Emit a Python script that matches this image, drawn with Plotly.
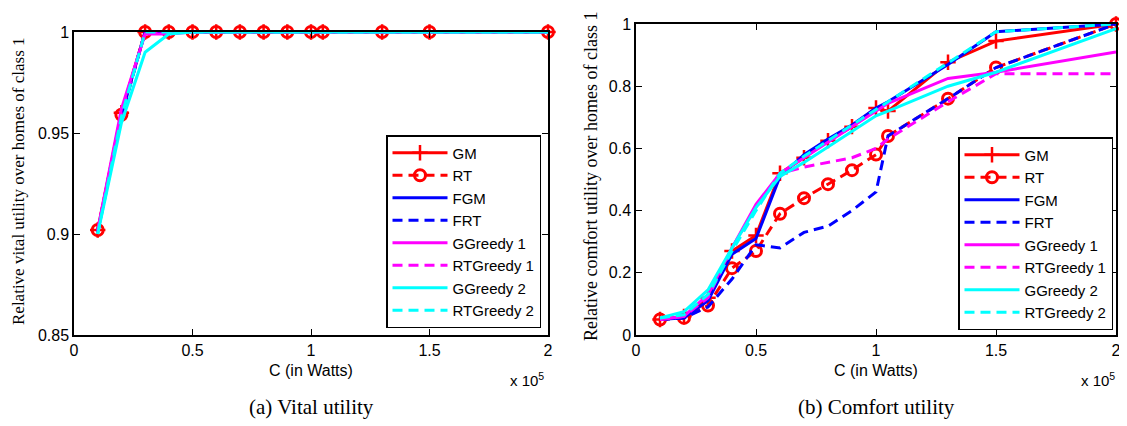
import plotly.graph_objects as go

# x in units of 1e5 Watts
C = [0.1, 0.2, 0.3, 0.4, 0.5, 0.6, 0.7, 0.8, 0.9, 1.0, 1.05, 1.3, 1.5, 2.0]

names = ["GM", "RT", "FGM", "FRT", "GGreedy 1", "RTGreedy 1", "GGreedy 2", "RTGreedy 2"]

# (a) Vital utility
vital_GM = [0.902, 0.960, 1.0, 1.0, 1.0, 1.0, 1.0, 1.0, 1.0, 1.0, 1.0, 1.0, 1.0, 1.0]
vital_RT = [0.902, 0.959, 1.0, 1.0, 1.0, 1.0, 1.0, 1.0, 1.0, 1.0, 1.0, 1.0, 1.0, 1.0]
vital_FGM = [0.901, 0.959, 1.0, 1.0, 1.0, 1.0, 1.0, 1.0, 1.0, 1.0, 1.0, 1.0, 1.0, 1.0]
vital_FRT = [0.901, 0.958, 1.0, 1.0, 1.0, 1.0, 1.0, 1.0, 1.0, 1.0, 1.0, 1.0, 1.0, 1.0]
vital_GG1 = [0.902, 0.962, 0.999, 0.999, 1.0, 1.0, 1.0, 1.0, 1.0, 1.0, 1.0, 1.0, 1.0, 1.0]
vital_RTG1 = [0.901, 0.960, 1.0, 1.0, 1.0, 1.0, 1.0, 1.0, 1.0, 1.0, 1.0, 1.0, 1.0, 1.0]
vital_GG2 = [0.900, 0.955, 0.990, 0.999, 1.0, 1.0, 1.0, 1.0, 1.0, 1.0, 1.0, 1.0, 1.0, 1.0]
vital_RTG2 = [0.900, 0.958, 1.0, 1.0, 1.0, 1.0, 1.0, 1.0, 1.0, 1.0, 1.0, 1.0, 1.0, 1.0]

# (b) Comfort utility
comf_GM = [0.05, 0.06, 0.12, 0.27, 0.32, 0.52, 0.57, 0.625, 0.67, 0.73, 0.72, 0.877, 0.945, 1.0]
comf_RT = [0.05, 0.055, 0.095, 0.215, 0.27, 0.39, 0.44, 0.485, 0.53, 0.58, 0.64, 0.76, 0.86, 1.0]
comf_FGM = [0.05, 0.055, 0.11, 0.26, 0.31, 0.51, 0.58, 0.63, 0.675, 0.73, 0.75, 0.87, 0.975, 1.0]
comf_FRT = [0.05, 0.055, 0.09, 0.18, 0.29, 0.28, 0.33, 0.35, 0.40, 0.46, 0.64, 0.76, 0.86, 1.0]
comf_GG1 = [0.05, 0.06, 0.13, 0.28, 0.42, 0.52, 0.57, 0.62, 0.67, 0.72, 0.745, 0.825, 0.845, 0.91]
comf_RTG1 = [0.05, 0.06, 0.12, 0.28, 0.41, 0.52, 0.54, 0.555, 0.57, 0.60, 0.63, 0.75, 0.84, 0.84]
comf_GG2 = [0.055, 0.075, 0.145, 0.28, 0.41, 0.51, 0.555, 0.605, 0.655, 0.705, 0.72, 0.80, 0.845, 0.985]
comf_RTG2 = [0.055, 0.065, 0.13, 0.27, 0.40, 0.52, 0.575, 0.625, 0.675, 0.725, 0.75, 0.875, 0.975, 1.0]

vital = [vital_GM, vital_RT, vital_FGM, vital_FRT, vital_GG1, vital_RTG1, vital_GG2, vital_RTG2]
comfort = [comf_GM, comf_RT, comf_FGM, comf_FRT, comf_GG1, comf_RTG1, comf_GG2, comf_RTG2]

RED, BLUE, MAG, CYAN = "#ff0000", "#0000ff", "#ff00ff", "#00ffff"
DASH = "10px,6px"
styles = [
    dict(color=RED, dash="solid", mode="lines+markers", marker=dict(symbol="cross-thin", size=11, line=dict(color=RED, width=2.5))),
    dict(color=RED, dash=DASH, mode="lines+markers", marker=dict(symbol="circle-open", size=11, line=dict(color=RED, width=3))),
    dict(color=BLUE, dash="solid", mode="lines", marker=None),
    dict(color=BLUE, dash=DASH, mode="lines", marker=None),
    dict(color=MAG, dash="solid", mode="lines", marker=None),
    dict(color=MAG, dash=DASH, mode="lines", marker=None),
    dict(color=CYAN, dash="solid", mode="lines", marker=None),
    dict(color=CYAN, dash=DASH, mode="lines", marker=None),
]

fig = go.Figure()
for panel, data in enumerate([vital, comfort]):
    xa = "x" if panel == 0 else "x2"
    ya = "y" if panel == 0 else "y2"
    lg = "legend" if panel == 0 else "legend2"
    for name, ys, st in zip(names, data, styles):
        kw = dict(x=C, y=ys, name=name, mode=st["mode"], xaxis=xa, yaxis=ya, legend=lg,
                  line=dict(color=st["color"], dash=st["dash"], width=3), cliponaxis=False)
        if st["marker"] is not None:
            kw["marker"] = st["marker"]
        fig.add_trace(go.Scatter(**kw))

# The page body has an 8px default margin; layout positions below are given in
# window pixels and converted to figure-paper fractions.
OX, OY = 8, 8
W, H = 1119, 412
def px(x):
    return (x - OX) / W
def py(y):
    return 1 - (y - OY) / H

SANS = "Liberation Sans, Arial, sans-serif"
tickfont = dict(family=SANS, size=16, color="black")
axis_common = dict(showline=True, linecolor="black", linewidth=1.5, mirror="ticks", ticks="inside",
                   ticklen=6, tickcolor="black", tickfont=tickfont, showgrid=False, zeroline=False,
                   automargin=False)
legfont = dict(family=SANS, size=15, color="black")

fig.update_layout(
    width=W, height=H, margin=dict(l=0, r=0, t=0, b=0, autoexpand=False),
    paper_bgcolor="white", plot_bgcolor="white",
    xaxis=dict(domain=[px(74), px(548)], range=[0, 2], dtick=0.5, anchor="y", **axis_common),
    yaxis=dict(domain=[py(335), py(32)], range=[0.85, 1], dtick=0.05, anchor="x", **axis_common),
    xaxis2=dict(domain=[px(636), px(1116)], range=[0, 2], dtick=0.5, anchor="y2", **axis_common),
    yaxis2=dict(domain=[py(335), py(24)], range=[0, 1], dtick=0.2, anchor="x2", **axis_common),
    legend=dict(x=px(541), y=py(328), xanchor="right", yanchor="bottom", bgcolor="white",
                bordercolor="black", borderwidth=1.5, font=legfont, itemwidth=55, tracegroupgap=0),
    legend2=dict(x=px(1113), y=py(330), xanchor="right", yanchor="bottom", bgcolor="white",
                 bordercolor="black", borderwidth=1.5, font=legfont, itemwidth=55, tracegroupgap=0),
    showlegend=True,
)

serif = "Liberation Serif, DejaVu Serif, serif"
ann = [
    dict(x=px(19), y=py(181), text="Relative vital utility over homes of class 1", textangle=-90,
         font=dict(family=serif, size=17, color="black")),
    dict(x=px(591), y=py(177), text="Relative comfort utility over homes of class 1", textangle=-90,
         font=dict(family=serif, size=18, color="black")),
    dict(x=px(311), y=py(370), text="C (in Watts)", font=dict(family=SANS, size=16, color="black")),
    dict(x=px(876), y=py(370), text="C (in Watts)", font=dict(family=SANS, size=16, color="black")),
    dict(x=px(527), y=py(379), text="x 10<sup>5</sup>", font=dict(family=SANS, size=15, color="black")),
    dict(x=px(1098), y=py(379), text="x 10<sup>5</sup>", font=dict(family=SANS, size=15, color="black")),
    dict(x=px(311), y=py(407), text="(a) Vital utility", font=dict(family=serif, size=21, color="black")),
    dict(x=px(876), y=py(407), text="(b) Comfort utility", font=dict(family=serif, size=21, color="black")),
]
for a in ann:
    a.update(xref="paper", yref="paper", showarrow=False, xanchor="center", yanchor="middle")
fig.update_layout(annotations=ann)

fig.write_html("out.html")
